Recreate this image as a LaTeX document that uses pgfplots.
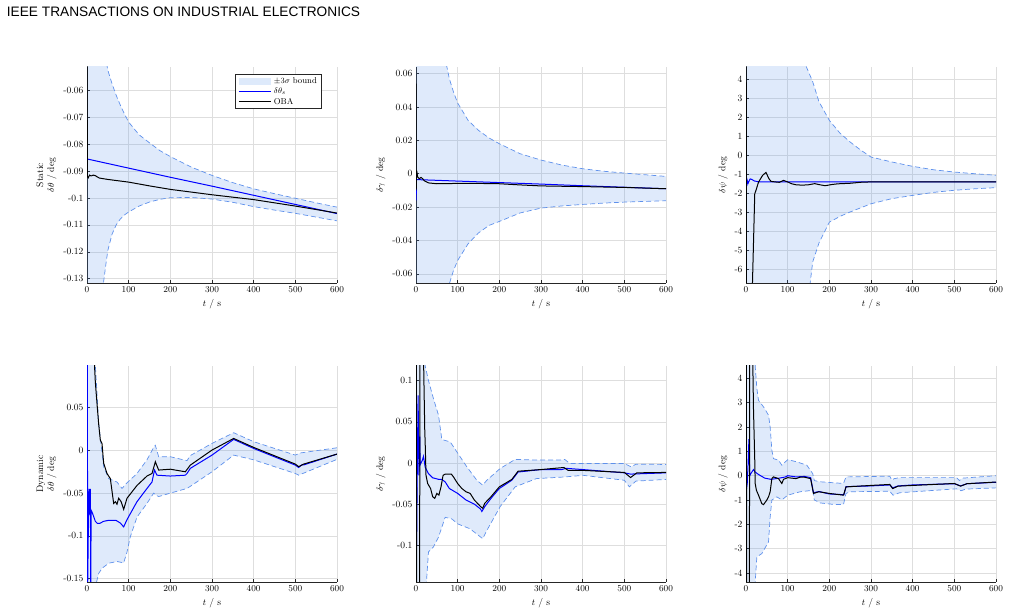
\documentclass[border=0pt]{standalone}
\usepackage{fontspec}
\usepackage{pgfplots}
\pgfplotsset{compat=1.18}
\usepackage{pgfplotstable}
\usepgfplotslibrary{fillbetween}
\newfontfamily\headfont{Liberation Sans}
\definecolor{bandfill}{RGB}{77,140,235}
\definecolor{bandline}{RGB}{95,145,235}
\definecolor{gridgray}{RGB}{222,222,222}
\definecolor{pureblue}{RGB}{0,0,255}

% ---------- Panel 1: static dtheta ----------
\pgfplotstableread{
t y
0 0.5
10 0.08
20 0.0
30 -0.03
40 -0.044
50 -0.0525
60 -0.0575
70 -0.0618
80 -0.0655
90 -0.0688
100 -0.0718
125 -0.0765
150 -0.0795
175 -0.0824
200 -0.0846
250 -0.0885
300 -0.0916
350 -0.0943
400 -0.0966
450 -0.0984
500 -0.1001
550 -0.1018
600 -0.1034
}\UA
\pgfplotstableread{
t y
0 -0.5
10 -0.25
20 -0.17
30 -0.145
40 -0.131
45 -0.125
50 -0.1195
60 -0.1135
70 -0.1100
80 -0.1078
90 -0.1063
100 -0.1052
125 -0.1030
150 -0.1015
175 -0.1005
200 -0.0999
250 -0.0998
300 -0.1004
350 -0.1016
400 -0.1032
450 -0.1045
500 -0.1057
550 -0.1071
600 -0.1085
}\LA
\pgfplotstableread{
t y
0 -0.079
0.5 -0.0855
100 -0.0889
200 -0.0923
300 -0.0956
400 -0.0990
500 -0.1024
600 -0.1058
}\BA
\pgfplotstableread{
t y
0 -0.04
1 -0.092
3 -0.0925
6 -0.0915
10 -0.0918
15 -0.0915
20 -0.0917
25 -0.0922
30 -0.0926
50 -0.0931
100 -0.0941
150 -0.0955
200 -0.0968
250 -0.0978
300 -0.0988
350 -0.0997
400 -0.1006
450 -0.1018
500 -0.1030
550 -0.1043
600 -0.1056
}\KA

% ---------- Panel 2: static dgamma ----------
\pgfplotstableread{
t y
0 1
20 0.25
40 0.13
60 0.083
70 0.069
80 0.057
90 0.049
100 0.0424
125 0.032
150 0.026
175 0.0215
200 0.018
250 0.012
300 0.0082
350 0.0052
400 0.0030
450 0.0015
500 0.0004
550 -0.0006
600 -0.0016
}\UB
\pgfplotstableread{
t y
0 -1
20 -0.27
40 -0.145
60 -0.095
70 -0.078
80 -0.066
90 -0.058
100 -0.052
125 -0.042
150 -0.0355
175 -0.031
200 -0.0286
250 -0.0235
300 -0.0206
350 -0.0193
400 -0.0184
450 -0.0176
500 -0.0170
550 -0.0166
600 -0.0162
}\LB
\pgfplotstableread{
t y
0 -0.016
0.3 0.0
0.6 -0.012
1 -0.0035
100 -0.0044
200 -0.0053
300 -0.0062
400 -0.0072
500 -0.0081
600 -0.009
}\BB
\pgfplotstableread{
t y
0 0.054
0.5 -0.01
1.5 0.002
4 -0.002
8 -0.003
12 -0.0022
16 -0.003
20 -0.0042
30 -0.0055
50 -0.006
100 -0.0058
150 -0.0058
200 -0.006
250 -0.0067
300 -0.0073
400 -0.0077
500 -0.0082
600 -0.009
}\KB

% ---------- Panel 3: static dpsi ----------
\pgfplotstableread{
t y
0 200
50 40
100 12
125 7
140 5.2
145 4.67
160 3.9
175 2.85
200 1.86
225 1.2
250 0.72
275 0.30
300 -0.07
350 -0.33
400 -0.56
450 -0.74
500 -0.86
550 -0.95
600 -1.03
}\UC
\pgfplotstableread{
t y
0 -200
50 -40
100 -14
140 -7.8
154 -6.7
160 -5.6
175 -4.6
200 -3.5
225 -3.2
250 -2.96
300 -2.53
350 -2.26
400 -2.09
450 -1.93
500 -1.82
550 -1.74
600 -1.68
}\LC
\pgfplotstableread{
t y
0 -1.7
1 -1.2
2 -1.6
3 -1.3
5 -1.45
8 -1.3
10 -1.22
14 -1.25
20 -1.33
30 -1.37
50 -1.38
600 -1.38
}\BC
\pgfplotstableread{
t y
0 -8
0.5 6
1 -8
14 -8
21 -2.0
24 -1.82
30 -1.39
40 -1.03
48 -0.88
55 -1.21
60 -1.35
70 -1.38
80 -1.40
90 -1.30
100 -1.38
110 -1.48
120 -1.53
135 -1.55
150 -1.53
165 -1.47
175 -1.52
190 -1.58
205 -1.52
220 -1.48
250 -1.45
280 -1.39
300 -1.38
400 -1.38
600 -1.38
}\KC

% ---------- Panel 4: dynamic dtheta ----------
\pgfplotstableread{
t y
0 0.5
15 0.2
20 0.1
24 0.067
28 0.032
34 0.006
40 -0.019
52 -0.033
72 -0.037
84 -0.0445
96 -0.038
120 -0.027
144 -0.011
160 0.0035
164 0.006
172 -0.0074
200 -0.0074
240 -0.012
248 -0.006
300 0.0082
352 0.0207
400 0.0102
500 -0.0055
512 -0.003
600 0.0031
}\UD
\pgfplotstableread{
t y
0 -0.5
12 -0.2
20 -0.16
28 -0.144
36 -0.138
52 -0.132
72 -0.130
88 -0.1316
96 -0.119
104 -0.101
120 -0.078
144 -0.062
160 -0.050
164 -0.052
172 -0.054
200 -0.050
240 -0.0445
248 -0.042
300 -0.025
352 -0.0055
400 -0.011
500 -0.027
508 -0.029
600 -0.0105
}\LD
\pgfplotstableread{
t y
0 -0.16
0.8 0.11
1.6 -0.16
4 -0.06
5 -0.045
6 -0.075
8 -0.045
9 -0.16
10 -0.07
12 -0.072
15 -0.076
20 -0.083
25 -0.0855
30 -0.0855
40 -0.083
50 -0.082
70 -0.082
80 -0.085
88 -0.0895
96 -0.081
120 -0.060
144 -0.0445
156 -0.037
162 -0.023
168 -0.029
200 -0.030
236 -0.029
240 -0.027
248 -0.021
300 -0.0055
352 0.0129
400 0.0023
500 -0.0172
508 -0.020
515 -0.017
520 -0.017
600 -0.0043
}\BD
\pgfplotstableread{
t y
0 0.5
17 0.11
20 0.08
24 0.055
28 0.031
32 0.012
36 0.008
40 -0.015
48 -0.027
56 -0.033
64 -0.062
68 -0.060
72 -0.063
76 -0.056
82 -0.060
88 -0.069
96 -0.056
120 -0.041
144 -0.030
156 -0.027
164 -0.0133
172 -0.023
200 -0.022
236 -0.025
248 -0.0172
300 0.0004
352 0.014
400 0.0035
500 -0.016
508 -0.019
520 -0.016
600 -0.0043
}\KD

% ---------- Panel 5: dynamic dgamma ----------
\pgfplotstableread{
t y
0 0.5
15 0.2
22 0.118
30 0.1
42 0.078
54 0.058
62 0.0285
82 0.0256
98 0.0136
122 -0.0047
146 -0.021
160 -0.027
170 -0.021
202 -0.0067
238 0.0043
289 0.0035
350 0.0035
357 0.0043
369 -0.0006
401 -0.0006
500 -0.0006
516 -0.0047
528 -0.0015
600 -0.0018
}\UE
\pgfplotstableread{
t y
0 -0.5
20 -0.2
25 -0.145
30 -0.108
42 -0.102
54 -0.09
70 -0.066
86 -0.068
100 -0.074
130 -0.080
160 -0.092
170 -0.082
202 -0.053
238 -0.029
289 -0.019
357 -0.017
401 -0.015
500 -0.021
512 -0.029
528 -0.022
600 -0.020
}\LE
\pgfplotstableread{
t y
0 -0.16
0.5 0.06
1.5 -0.1
3 -0.013
5 0.082
7 -0.015
9 0.032
10 -0.002
15 0.003
18 0.008
22 -0.005
30 -0.013
40 -0.018
55 -0.020
62 -0.020
70 -0.023
80 -0.031
100 -0.037
120 -0.045
140 -0.050
155 -0.056
158 -0.059
165 -0.053
180 -0.043
200 -0.031
230 -0.021
245 -0.011
300 -0.008
350 -0.008
360 -0.0065
400 -0.008
500 -0.012
515 -0.0135
600 -0.012
}\BE
\pgfplotstableread{
t y
0 -0.2
0.8 0.13
1.6 -0.2
8.5 -0.2
9.5 0.13
18 0.13
21 0.04
22 0.025
24 -0.015
28 -0.025
35 -0.031
40 -0.041
45 -0.043
50 -0.037
55 -0.039
60 -0.029
65 -0.015
70 -0.0136
85 -0.0136
90 -0.017
100 -0.025
110 -0.031
120 -0.035
130 -0.037
140 -0.045
155 -0.053
160 -0.055
165 -0.049
180 -0.041
200 -0.029
230 -0.020
245 -0.010
300 -0.008
355 -0.0055
365 -0.009
400 -0.009
500 -0.0115
515 -0.0177
530 -0.012
600 -0.0115
}\KE

% ---------- Panel 6: dynamic dpsi ----------
\pgfplotstableread{
t y
0 20
15 8
22 4.51
26 3.6
30 3.1
42 2.83
54 2.49
58 2.0
62 1.05
66 0.7
78 0.64
86 0.43
100 0.66
122 0.57
146 0.43
160 0.09
164 -0.2
178 -0.25
234 -0.32
240 -0.05
345 -0.02
350 -0.18
356 -0.12
369 -0.08
505 -0.08
512 -0.2
520 -0.1
600 0.0
}\UF
\pgfplotstableread{
t y
0 -20
15 -8
22 -4.4
26 -3.34
38 -3.2
54 -2.72
58 -1.7
62 -1.0
74 -0.87
86 -1.0
100 -0.8
130 -0.66
160 -0.6
164 -1.0
178 -1.12
210 -1.18
234 -1.18
240 -0.73
250 -0.66
345 -0.64
353 -0.8
369 -0.7
505 -0.54
516 -0.62
528 -0.55
600 -0.5
}\LF
\pgfplotstableread{
t y
0 -0.7
3 -0.3
5 0.5
7 1.5
9 0.0
12 0.1
18 0.25
22 0.15
30 0.05
45 -0.1
60 -0.15
80 -0.1
95 -0.05
100 0.0
120 -0.05
140 -0.03
155 -0.08
162 -0.7
175 -0.65
200 -0.75
235 -0.78
240 -0.45
300 -0.42
345 -0.38
352 -0.5
365 -0.42
400 -0.38
500 -0.33
515 -0.42
530 -0.33
600 -0.27
}\BF
\pgfplotstableread{
t y
0 -5
0.8 5
1.6 -5
8 -5
9 5
16 5
18 2.7
21 0.64
22 -0.32
25 -0.6
30 -0.8
38 -1.15
42 -1.19
50 -1.0
54 -0.87
58 -0.66
62 -0.12
66 -0.05
78 -0.12
86 -0.32
90 -0.15
100 -0.08
120 -0.12
130 -0.06
140 -0.06
155 -0.12
162 -0.73
175 -0.66
200 -0.73
234 -0.8
240 -0.46
300 -0.4
345 -0.36
352 -0.53
365 -0.43
400 -0.4
500 -0.32
515 -0.43
530 -0.33
600 -0.26
}\KF

\pgfplotsset{
 panel/.style={
  scale only axis, width=250pt, height=216pt,
  xmin=0, xmax=600, xtick={0,100,...,600},
  axis x line*=bottom, axis y line*=left,
  axis line style={black!85, line width=0.5pt},
  xmajorgrids, ymajorgrids,
  grid style={gridgray, line width=0.5pt},
  tick style={black!85, line width=0.5pt},
  major tick length=3pt,
  tick label style={font=\fontsize{9.5}{10}\selectfont},
  label style={font=\fontsize{9.5}{11}\selectfont},
  xlabel={$t$ / s},
  scaled ticks=false,
  clip=true,
 },
 ub/.style={draw=none, forget plot},
 bl/.style={draw=bandline, dash pattern=on 5pt off 3pt, line width=0.7pt, forget plot},
 bf/.style={fill=bandfill, fill opacity=0.18, draw=none, forget plot},
 est/.style={draw=pureblue, line width=1pt, forget plot},
 oba/.style={draw=black, line width=1pt, forget plot},
 bfL/.style={fill=bandfill, fill opacity=0.18, draw=none},
 estL/.style={draw=pureblue, line width=1pt},
 obaL/.style={draw=black, line width=1pt},
}

\begin{document}
\begin{tikzpicture}
\node[anchor=base west, inner sep=0pt, font=\headfont\fontsize{13.7}{16}\selectfont] at (6.7pt,598.3pt) {IEEE TRANSACTIONS ON INDUSTRIAL ELECTRONICS};

% Panel 1
\begin{axis}[panel, at={(87pt,332pt)}, anchor=south west,
  ymin=-0.1316, ymax=-0.0513,
  ytick={-0.13,-0.12,-0.11,-0.1,-0.09,-0.08,-0.07,-0.06},
  yticklabels={-0.13,-0.12,-0.11,-0.1,-0.09,-0.08,-0.07,-0.06},
  ylabel={Static\\$\delta\theta$ / deg}, ylabel style={align=center},
  legend style={at={(0.9388,0.9662)}, anchor=north east, font=\fontsize{8.5}{9}\selectfont,
    draw=black!85, line width=0.6pt, fill=white, inner xsep=3pt, inner ysep=1.5pt,
    row sep=0pt, column sep=1pt, nodes={inner sep=1.5pt, text depth=0.15em}},
  legend cell align=left,
  legend image code/.code={\draw[#1] (0pt,0pt) -- (32pt,0pt);},
]
\addplot[ub, name path=U] table {\UA};
\addplot[ub, name path=L] table {\LA};
\addplot[bfL, legend image code/.code={\path[draw=none, fill=bandfill, fill opacity=0.18] (0pt,-3.7pt) rectangle (32pt,3.7pt);}] fill between[of=U and L];
\addlegendentry{$\pm 3\sigma$ bound}
\addplot[bl] table {\UA};
\addplot[bl] table {\LA};
\addplot[estL] table {\BA};
\addlegendentry{$\delta\theta_s$}
\addplot[obaL] table {\KA};
\addlegendentry{OBA}
\end{axis}

% Panel 2
\begin{axis}[panel, at={(416pt,332pt)}, anchor=south west,
  ymin=-0.0655, ymax=0.064,
  ytick={-0.06,-0.04,-0.02,0,0.02,0.04,0.06},
  yticklabels={-0.06,-0.04,-0.02,0,0.02,0.04,0.06},
  ylabel={$\delta\gamma$ / deg},
]
\addplot[ub, name path=U] table {\UB};
\addplot[ub, name path=L] table {\LB};
\addplot[bf] fill between[of=U and L];
\addplot[bl] table {\UB};
\addplot[bl] table {\LB};
\addplot[est] table {\BB};
\addplot[oba] table {\KB};
\end{axis}

% Panel 3
\begin{axis}[panel, at={(746pt,332pt)}, anchor=south west,
  ymin=-6.7, ymax=4.67,
  ytick={-6,-5,-4,-3,-2,-1,0,1,2,3,4},
  yticklabels={-6,-5,-4,-3,-2,-1,0,1,2,3,4},
  ylabel={$\delta\psi$ / deg},
]
\addplot[ub, name path=U] table {\UC};
\addplot[ub, name path=L] table {\LC};
\addplot[bf] fill between[of=U and L];
\addplot[bl] table {\UC};
\addplot[bl] table {\LC};
\addplot[est] table {\BC};
\addplot[oba] table {\KC};
\end{axis}

% Panel 4
\begin{axis}[panel, at={(87pt,33pt)}, anchor=south west,
  ymin=-0.154, ymax=0.0988,
  ytick={-0.15,-0.1,-0.05,0,0.05},
  yticklabels={-0.15,-0.1,-0.05,0,0.05},
  ylabel={Dynamic\\$\delta\theta$ / deg}, ylabel style={align=center},
]
\addplot[ub, name path=U] table {\UD};
\addplot[ub, name path=L] table {\LD};
\addplot[bf] fill between[of=U and L];
\addplot[bl] table {\UD};
\addplot[bl] table {\LD};
\addplot[est] table {\BD};
\addplot[oba] table {\KD};
\end{axis}

% Panel 5
\begin{axis}[panel, at={(416pt,33pt)}, anchor=south west,
  ymin=-0.1446, ymax=0.1178,
  ytick={-0.1,-0.05,0,0.05,0.1},
  yticklabels={-0.1,-0.05,0,0.05,0.1},
  ylabel={$\delta\gamma$ / deg},
]
\addplot[ub, name path=U] table {\UE};
\addplot[ub, name path=L] table {\LE};
\addplot[bf] fill between[of=U and L];
\addplot[bl] table {\UE};
\addplot[bl] table {\LE};
\addplot[est] table {\BE};
\addplot[oba] table {\KE};
\end{axis}

% Panel 6
\begin{axis}[panel, at={(746pt,33pt)}, anchor=south west,
  ymin=-4.37, ymax=4.51,
  ytick={-4,-3,-2,-1,0,1,2,3,4},
  yticklabels={-4,-3,-2,-1,0,1,2,3,4},
  ylabel={$\delta\psi$ / deg},
]
\addplot[ub, name path=U] table {\UF};
\addplot[ub, name path=L] table {\LF};
\addplot[bf] fill between[of=U and L];
\addplot[bl] table {\UF};
\addplot[bl] table {\LF};
\addplot[est] table {\BF};
\addplot[oba] table {\KF};
\end{axis}
\path (0pt,0pt) rectangle (1009pt,615pt);
\end{tikzpicture}
\end{document}
